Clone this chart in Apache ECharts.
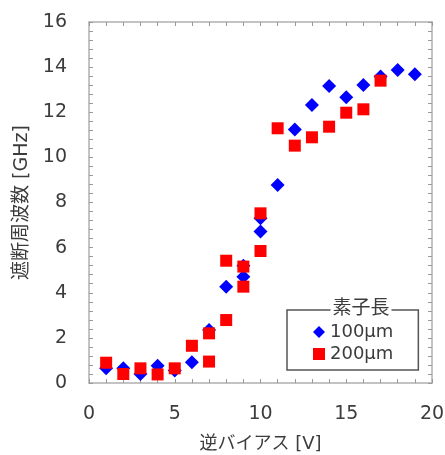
<!DOCTYPE html>
<html><head><meta charset="utf-8">
<script src="https://cdn.jsdelivr.net/npm/echarts@6/dist/echarts.min.js"></script>
<style>html,body{margin:0;padding:0;background:#fff}#c{width:445px;height:455px}</style>
</head><body><div id="c"></div>
<script>
const xTicks = [0, 5, 10, 15, 20];
const yTicks = [0, 2, 4, 6, 8, 10, 12, 14, 16];
const legendTitle = '素子長';
const seriesNames = ['100μm', '200μm'];
const s100x = [1, 2, 3, 4, 5, 6, 7, 8, 9, 9, 10, 10, 11, 12, 13, 14, 15, 16, 17, 18, 19];
const s100y = [0.65, 0.65, 0.4, 0.77, 0.55, 0.92, 2.35, 4.27, 4.71, 5.2, 7.3, 6.71, 8.78, 11.24, 12.32, 13.16, 12.66, 13.21, 13.58, 13.87, 13.68];
const s200x = [1, 2, 3, 4, 5, 6, 7, 7, 8, 8, 9, 9, 10, 10, 11, 12, 13, 14, 15, 16, 17];
const s200y = [0.9, 0.4, 0.65, 0.38, 0.65, 1.65, 2.2, 0.95, 5.42, 2.79, 5.16, 4.27, 7.52, 5.85, 11.29, 10.52, 10.89, 11.36, 11.98, 12.13, 13.4];

const pairs = (xs, ys) => xs.map((x, i) => [x, ys[i]]);
const font = '"DejaVu Sans", "Noto Sans CJK JP", sans-serif';
const textCol = '#3c3c3c';
const chart = echarts.init(document.getElementById('c'), null, {renderer: 'canvas'});
const axLine = {show: true, onZero: false, lineStyle: {color: '#b0b0b0', width: 1.5}};
const tick = {show: true, inside: true, length: 4, lineStyle: {color: '#999'}};
const minor = {show: true, splitNumber: 5, length: 4, lineStyle: {color: '#999'}};
const xBase = {type: 'value', min: 0, max: 20, interval: 5, axisLine: axLine, axisTick: tick, minorTick: minor, splitLine: {show: false}, minorSplitLine: {show: false}};
const yBase = {type: 'value', min: 0, max: 16, interval: 2, axisLine: axLine, axisTick: tick, minorTick: minor, splitLine: {show: false}, minorSplitLine: {show: false}};
chart.setOption({
  animation: false,
  textStyle: {fontFamily: font},
  grid: {left: 89, right: 13, top: 22, bottom: 72, containLabel: false, outerBoundsMode: 'none'},
  xAxis: [
    Object.assign({}, xBase, {position: 'bottom', name: '逆バイアス [V]', nameLocation: 'middle', nameGap: 52,
      nameTextStyle: {fontFamily: font, fontSize: 18, color: textCol},
      axisLabel: {margin: 22, fontSize: 19, color: textCol, fontFamily: font, customValues: xTicks}}),
    Object.assign({}, xBase, {position: 'top', axisLabel: {show: false}})
  ],
  yAxis: [
    Object.assign({}, yBase, {position: 'left', name: '遮断周波数 [GHz]', nameLocation: 'middle', nameGap: 57,
      nameTextStyle: {fontFamily: font, fontSize: 19, color: textCol},
      axisLabel: {margin: 22, fontSize: 19, color: textCol, fontFamily: font, customValues: yTicks}}),
    Object.assign({}, yBase, {position: 'right', axisLabel: {show: false}})
  ],
  legend: {
    orient: 'vertical', left: 287, top: 310, itemWidth: 12, itemHeight: 12, itemGap: 2,
    padding: [12, 25, 6, 26], borderColor: '#555', borderWidth: 1.5, backgroundColor: '#fff',
    textStyle: {fontFamily: font, fontSize: 18, lineHeight: 20, color: textCol},
    data: [{name: seriesNames[0], icon: 'diamond'}, {name: seriesNames[1], icon: 'rect'}]
  },
  graphic: [{
    type: 'text', x: 361, y: 309, z: 100,
    style: {text: legendTitle, font: '19px ' + font, fill: textCol, backgroundColor: '#fff', padding: [0, 2], align: 'center', verticalAlign: 'middle'}
  }],
  series: [
    {name: seriesNames[0], type: 'scatter', symbol: 'diamond', symbolSize: 14, itemStyle: {color: '#0000ff', opacity: 1}, data: pairs(s100x, s100y), z: 2},
    {name: seriesNames[1], type: 'scatter', symbol: 'rect', symbolSize: 12, itemStyle: {color: '#ff0000', opacity: 1}, data: pairs(s200x, s200y), z: 3}
  ]
});
</script></body></html>
